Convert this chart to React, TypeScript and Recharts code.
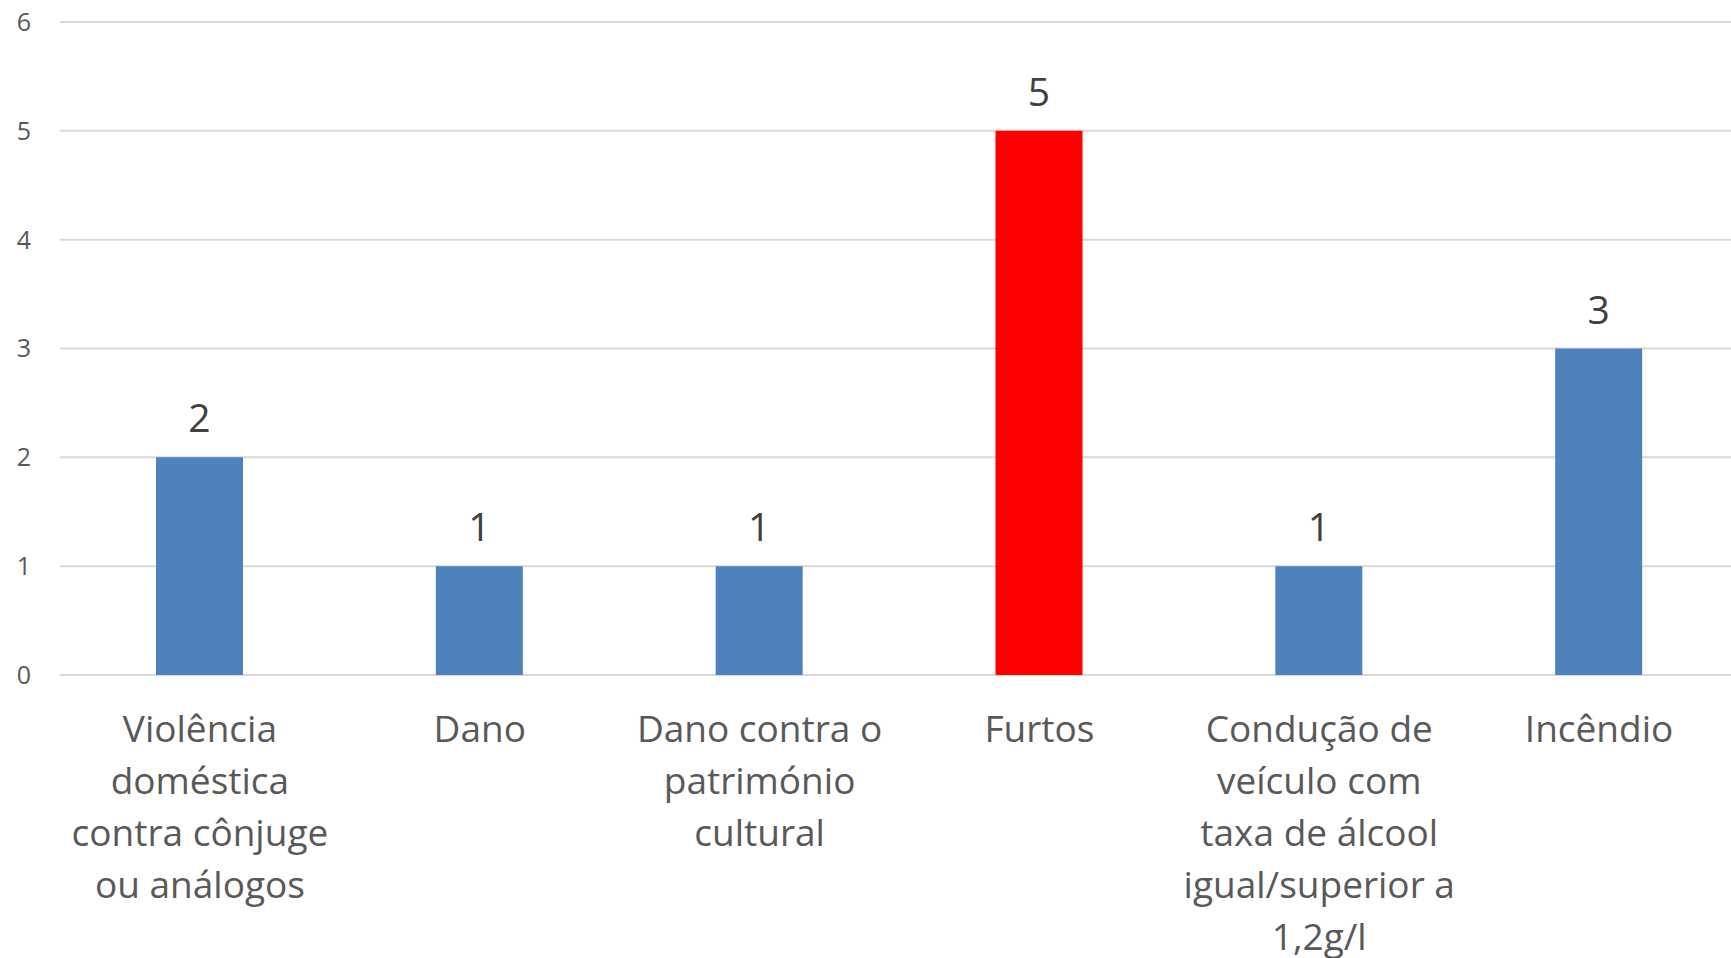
import { BarChart, Bar, XAxis, YAxis, CartesianGrid, Cell, LabelList } from 'recharts';

const categories = [
  'Violência doméstica contra cônjuge ou análogos',
  'Dano',
  'Dano contra o património cultural',
  'Furtos',
  'Condução de veículo com taxa de álcool igual/superior a 1,2g/l',
  'Incêndio',
];

// how each category name wraps under the axis
const categoryLines = [
  ['Violência', 'doméstica', 'contra cônjuge', 'ou análogos'],
  ['Dano'],
  ['Dano contra o', 'património', 'cultural'],
  ['Furtos'],
  ['Condução de', 'veículo com', 'taxa de álcool', 'igual/superior a', '1,2g/l'],
  ['Incêndio'],
];

const counts = [2, 1, 1, 5, 1, 3];
const barColors = ['#4f81bd', '#4f81bd', '#4f81bd', '#ff0000', '#4f81bd', '#4f81bd'];
const yTicks = [0, 1, 2, 3, 4, 5, 6];

const data = categories.map((name, i) => ({ name, value: counts[i] }));

const FONT = '"Open Sans", "Noto Sans", sans-serif';

function CategoryTick(props: any) {
  const { x, y, payload } = props;
  const lines = categoryLines[payload.index] ?? [payload.value];
  return (
    <text x={x} y={y + 59} textAnchor="middle" fill="#595959" fontSize={37} fontFamily={FONT}>
      {lines.map((l: string, i: number) => (
        <tspan key={i} x={x} dy={i === 0 ? 0 : 52}>
          {l}
        </tspan>
      ))}
    </text>
  );
}

function ValueLabel(props: any) {
  const { x, y, width, value } = props;
  return (
    <text x={x + width / 2} y={y - 25} textAnchor="middle" fill="#404040" fontSize={39} fontFamily={FONT}>
      {value}
    </text>
  );
}

export default function App() {
  return (
    <div
      style={{
        position: 'fixed',
        top: 0,
        left: 0,
        width: 1731,
        height: 958,
        overflow: 'hidden',
        background: '#fff',
      }}
    >
      <BarChart width={1740} height={958} data={data} margin={{ top: 22, right: 1, bottom: 0, left: 1 }}>
        <CartesianGrid vertical={false} stroke="#d9d9d9" strokeWidth={2} />
        <XAxis
          dataKey="name"
          axisLine={false}
          tickLine={false}
          height={283}
          interval={0}
          tick={<CategoryTick />}
        />
        <YAxis
          domain={[0, 6]}
          ticks={yTicks}
          width={59}
          axisLine={false}
          tickLine={false}
          tickSize={0}
          tickMargin={29}
          tick={{ fill: '#595959', fontSize: 25, fontFamily: FONT }}
        />
        <Bar dataKey="value" barSize={87} isAnimationActive={false}>
          {data.map((_, i) => (
            <Cell key={i} fill={barColors[i]} />
          ))}
          <LabelList dataKey="value" content={<ValueLabel />} />
        </Bar>
      </BarChart>
    </div>
  );
}
